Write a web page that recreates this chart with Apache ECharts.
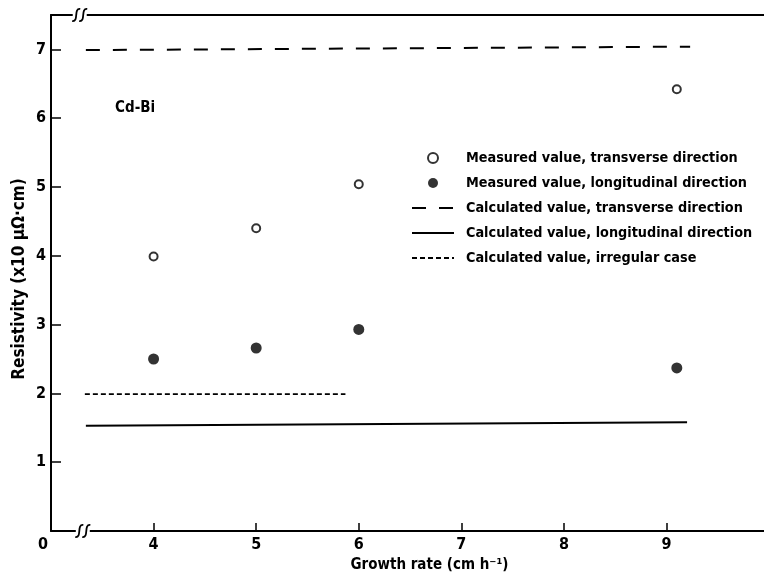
<!DOCTYPE html>
<html>
<head>
<meta charset="utf-8">
<script src="https://cdn.jsdelivr.net/npm/echarts@6/dist/echarts.min.js"></script>
<style>html,body{margin:0;padding:0;background:#fff}#c{width:764px;height:572px}</style>
</head>
<body>
<div id="c"></div>
<script>
// ---- data ----
const xMeasured = [4, 5, 6, 9.1];
const measuredTransverse = [3.99, 4.40, 5.04, 6.42];
const measuredLongitudinal = [2.50, 2.66, 2.93, 2.37];
const calcTransverseX = [3.34, 9.23];
const calcTransverseY = [6.99, 7.04];
const calcLongitudinalX = [3.34, 9.20];
const calcLongitudinalY = [1.53, 1.58];
const calcIrregularX = [3.33, 5.87];
const calcIrregularY = [1.99, 1.99];
const seriesNames = [
  'Measured value, transverse direction',
  'Measured value, longitudinal direction',
  'Calculated value, transverse direction',
  'Calculated value, longitudinal direction',
  'Calculated value, irregular case'
];
const yTickLabels = ['', '1', '2', '3', '4', '5', '6', '7'];
const xTickLabels = {3: '0', 4: '4', 5: '5', 6: '6', 7: '7', 8: '8', 9: '9'};
const annotation = 'Cd-Bi';
const xName = 'Growth rate (cm h\u207B\u00B9)';
const yName = 'Resistivity (x10 \u03BC\u03A9\u00B7cm)';

const FONT = "'Liberation Sans Narrow', 'DejaVu Sans Condensed', 'Roboto Condensed', 'Liberation Sans', sans-serif";
const zip = (xs, ys) => xs.map((x, i) => [x, ys[i]]);

const chart = echarts.init(document.getElementById('c'), null, {renderer: 'canvas'});
const axisLine = {show: true, lineStyle: {color: '#000', width: 2}};
const option = {
  animation: false,
  backgroundColor: '#fff',
  textStyle: {fontFamily: FONT, color: '#000'},
  grid: {left: 51, right: 0, top: 15, bottom: 41, containLabel: false, outerBoundsMode: 'none'},
  xAxis: [{
    type: 'value', min: 3, max: 9.95, interval: 1,
    axisLine: axisLine,
    axisTick: {show: true, inside: true, length: 8, lineStyle: {color: '#000', width: 1.5}},
    splitLine: {show: false},
    axisLabel: {
      margin: 6, color: '#000', fontFamily: FONT, fontWeight: 'bold', fontSize: 16,
      showMaxLabel: false,
      formatter: v => {
        const t = xTickLabels[Math.round(v)];
        if (t === undefined) return '';
        return Math.round(v) === 3 ? '{z|' + t + '}' : t;
      },
      rich: {z: {fontFamily: FONT, fontWeight: 'bold', fontSize: 16, color: '#000', padding: [0, 16, 0, 0]}}
    },
    name: xName, nameLocation: 'middle', nameGap: 27, nameMoveOverlap: false,
    nameTextStyle: {fontFamily: FONT, fontWeight: 'bold', fontSize: 15, color: '#000', padding: [0, 0, 0, 44]}
  }, {
    type: 'value', position: 'top', min: 3, max: 9.95,
    axisLine: axisLine, axisTick: {show: false}, axisLabel: {show: false}, splitLine: {show: false}
  }],
  yAxis: {
    type: 'value', min: 0, max: 7.5, interval: 1,
    axisLine: axisLine,
    axisTick: {show: true, inside: true, length: 10, lineStyle: {color: '#000', width: 1.5}},
    splitLine: {show: false},
    axisLabel: {
      margin: 5, color: '#000', fontFamily: FONT, fontWeight: 'bold', fontSize: 16,
      showMaxLabel: false,
      formatter: v => (yTickLabels[Math.round(v)] !== undefined && Math.abs(v - Math.round(v)) < 1e-6) ? yTickLabels[Math.round(v)] : ''
    },
    name: yName, nameLocation: 'middle', nameGap: 23, nameRotate: 90, nameMoveOverlap: false,
    nameTextStyle: {fontFamily: FONT, fontWeight: 'bold', fontSize: 17, color: '#000', padding: [0, 12, 0, 0]}
  },
  legend: {
    orient: 'vertical', left: 406, top: 146, selectedMode: false,
    itemWidth: 42, itemHeight: 10, itemGap: 11,
    textStyle: {fontFamily: FONT, fontWeight: 'bold', fontSize: 14.3, lineHeight: 14, color: '#000', padding: [0, 0, 0, 7]},
    data: [
      {name: seriesNames[0]},
      {name: seriesNames[1]},
      {name: seriesNames[2], itemStyle: {opacity: 0}},
      {name: seriesNames[3], itemStyle: {opacity: 0}},
      {name: seriesNames[4], itemStyle: {opacity: 0}}
    ]
  },
  series: [
    {name: seriesNames[0], type: 'scatter', data: zip(xMeasured, measuredTransverse), symbol: 'circle', symbolSize: 8,
     itemStyle: {color: '#fff', borderColor: '#000', borderWidth: 2}},
    {name: seriesNames[1], type: 'scatter', data: zip(xMeasured, measuredLongitudinal), symbol: 'circle', symbolSize: 11,
     itemStyle: {color: '#000'}},
    {name: seriesNames[2], type: 'line', data: zip(calcTransverseX, calcTransverseY), symbol: 'none', showSymbol: false,
     lineStyle: {color: '#000', width: 2, type: [14, 13]}, itemStyle: {color: '#000'}},
    {name: seriesNames[3], type: 'line', data: zip(calcLongitudinalX, calcLongitudinalY), symbol: 'none', showSymbol: false,
     lineStyle: {color: '#000', width: 2, type: 'solid'}, itemStyle: {color: '#000'}},
    {name: seriesNames[4], type: 'line', data: zip(calcIrregularX, calcIrregularY), symbol: 'none', showSymbol: false,
     lineStyle: {color: '#000', width: 1.8, type: [5, 3]}, itemStyle: {color: '#000'}}
  ]
};
chart.setOption(option);

// decorations: axis break marks and annotation
function breakMark(cx, cy) {
  const s = [];
  s.push({type: 'rect', shape: {x: cx - 7, y: cy - 2, width: 14, height: 4}, style: {fill: '#fff'}, z: 100});
  [-3.5, 3.5].forEach(dx => {
    const x = cx + dx;
    s.push({type: 'bezierCurve', z: 101,
      shape: {x1: x - 4, y1: cy + 6, x2: x + 4, y2: cy - 6, cpx1: x + 3, cpy1: cy + 7, cpx2: x - 3, cpy2: cy - 7},
      style: {stroke: '#000', lineWidth: 1.8, fill: null}});
  });
  return s;
}
const pBot = chart.convertToPixel({xAxisIndex: 0, yAxisIndex: 0}, [3.31, 0]);
const pTop = chart.convertToPixel({xAxisIndex: 0, yAxisIndex: 0}, [3.28, 7.5]);
const pText = chart.convertToPixel({xAxisIndex: 0, yAxisIndex: 0}, [3.82, 6.14]);
chart.setOption({graphic: [].concat(breakMark(pBot[0], pBot[1]), breakMark(pTop[0], pTop[1]), [
  {type: 'text', x: pText[0], y: pText[1], z: 102,
   style: {text: annotation, fontFamily: FONT, fontWeight: 'bold', fontSize: 15, fill: '#000', align: 'center', verticalAlign: 'middle'}}
])});
</script>
</body>
</html>
